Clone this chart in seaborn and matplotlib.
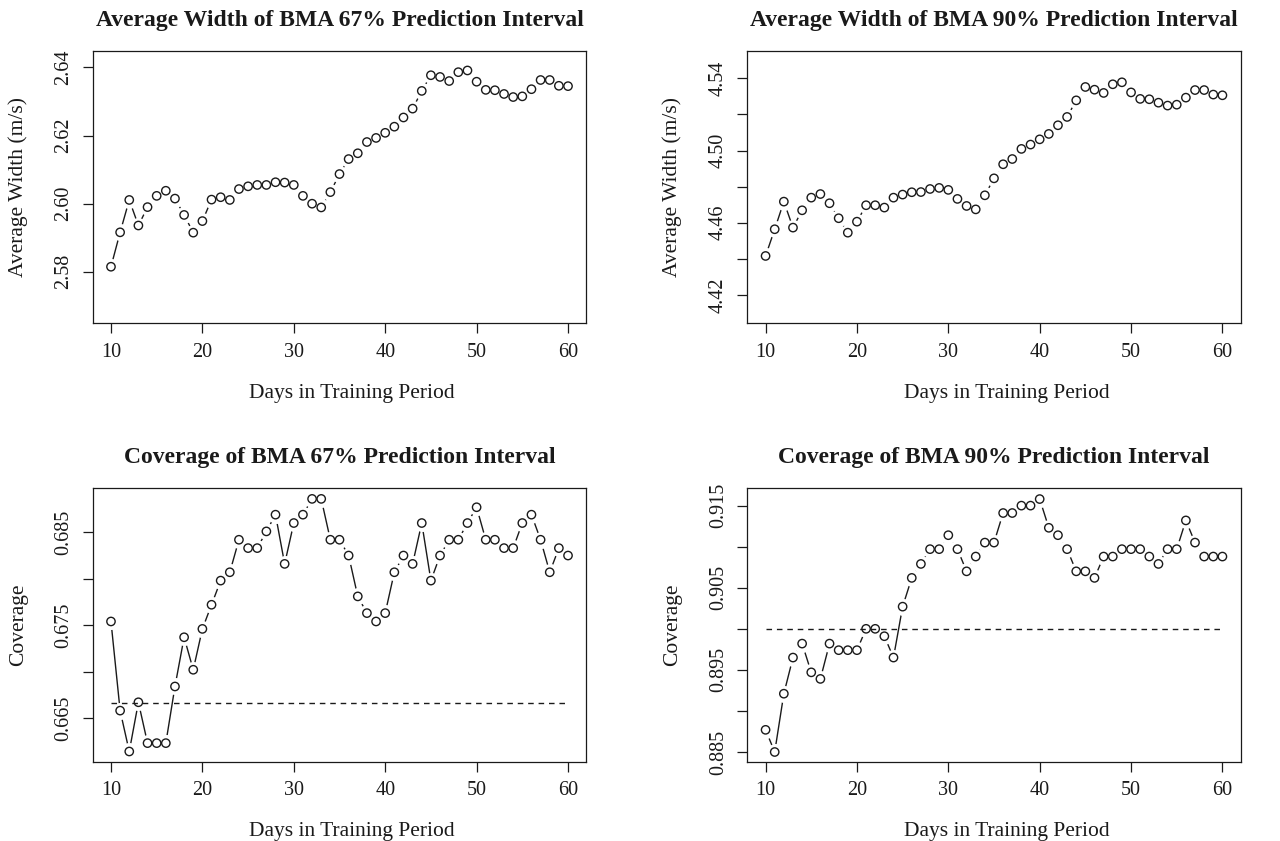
import matplotlib
matplotlib.use("Agg")
import matplotlib.pyplot as plt
import seaborn as sns
import numpy as np
import pandas as pd

days = list(range(10, 61))

width67 = [2.5815, 2.5916, 2.6011, 2.5936, 2.5990, 2.6023, 2.6038, 2.6015, 2.5967, 2.5915,
           2.5949, 2.6012, 2.6019, 2.6011, 2.6043, 2.6051, 2.6055, 2.6055, 2.6063, 2.6062,
           2.6055, 2.6023, 2.6000, 2.5989, 2.6034, 2.6087, 2.6131, 2.6148, 2.6181, 2.6193,
           2.6208, 2.6226, 2.6253, 2.6279, 2.6331, 2.6377, 2.6372, 2.6360, 2.6386, 2.6391,
           2.6358, 2.6334, 2.6333, 2.6322, 2.6313, 2.6315, 2.6336, 2.6363, 2.6363, 2.6346,
           2.6345]

width90 = [4.4416, 4.4564, 4.4717, 4.4573, 4.4669, 4.4739, 4.4759, 4.4708, 4.4625, 4.4545,
           4.4606, 4.4697, 4.4697, 4.4684, 4.4739, 4.4756, 4.4769, 4.4770, 4.4787, 4.4793,
           4.4782, 4.4732, 4.4693, 4.4674, 4.4752, 4.4846, 4.4924, 4.4953, 4.5009, 4.5033,
           4.5062, 4.5092, 4.5140, 4.5186, 4.5278, 4.5352, 4.5337, 4.5319, 4.5367, 4.5378,
           4.5322, 4.5286, 4.5284, 4.5265, 4.5249, 4.5254, 4.5293, 4.5335, 4.5335, 4.5310,
           4.5306]

cover67 = [0.6754, 0.6658, 0.6614, 0.6667, 0.6623, 0.6623, 0.6623, 0.6684, 0.6737, 0.6702,
           0.6746, 0.6772, 0.6798, 0.6807, 0.6842, 0.6833, 0.6833, 0.6851, 0.6869, 0.6816,
           0.6860, 0.6869, 0.6886, 0.6886, 0.6842, 0.6842, 0.6825, 0.6781, 0.6763, 0.6754,
           0.6763, 0.6807, 0.6825, 0.6816, 0.6860, 0.6798, 0.6825, 0.6842, 0.6842, 0.6860,
           0.6877, 0.6842, 0.6842, 0.6833, 0.6833, 0.6860, 0.6869, 0.6842, 0.6807, 0.6833,
           0.6825]

cover90 = [0.8877, 0.8850, 0.8921, 0.8965, 0.8982, 0.8947, 0.8939, 0.8982, 0.8974, 0.8974,
           0.8974, 0.9000, 0.9000, 0.8991, 0.8965, 0.9027, 0.9062, 0.9079, 0.9097, 0.9097,
           0.9114, 0.9097, 0.9070, 0.9088, 0.9105, 0.9105, 0.9141, 0.9141, 0.9150, 0.9150,
           0.9158, 0.9123, 0.9114, 0.9097, 0.9070, 0.9070, 0.9062, 0.9088, 0.9088, 0.9097,
           0.9097, 0.9097, 0.9088, 0.9079, 0.9097, 0.9097, 0.9132, 0.9105, 0.9088, 0.9088,
           0.9088]

nominal67 = 2 / 3
nominal90 = 0.90

sns.set_style("ticks")
plt.rcParams['font.family'] = ['Liberation Serif', 'DejaVu Serif']

ink = "#1a1a1a"

fig = plt.figure(figsize=(12.8, 8.41), dpi=100)
W, H = 1280, 841

def make_axes(left, top, right, bottom):
    return fig.add_axes([left / W, 1 - bottom / H, (right - left) / W, (bottom - top) / H])

panels = [
    dict(ax=make_axes(92.7, 50.7, 586.3, 323.3), y=width67,
         title="Average Width of BMA 67% Prediction Interval", ylabel="Average Width (m/s)",
         ylim=(2.5649, 2.6449), ticks=[2.58, 2.60, 2.62, 2.64],
         labels=["2.58", "2.60", "2.62", "2.64"], ref=None),
    dict(ax=make_axes(747.3, 50.7, 1240.7, 323.3), y=width90,
         title="Average Width of BMA 90% Prediction Interval", ylabel="Average Width (m/s)",
         ylim=(4.4043, 4.5553), ticks=[4.42, 4.44, 4.46, 4.48, 4.50, 4.52, 4.54],
         labels=["4.42", "", "4.46", "", "4.50", "", "4.54"], ref=None),
    dict(ax=make_axes(92.7, 488.3, 586.3, 761.7), y=cover67,
         title="Coverage of BMA 67% Prediction Interval", ylabel="Coverage",
         ylim=(0.6603, 0.68974), ticks=[0.665, 0.670, 0.675, 0.680, 0.685],
         labels=["0.665", "", "0.675", "", "0.685"], ref=nominal67),
    dict(ax=make_axes(747.3, 488.3, 1240.7, 761.7), y=cover90,
         title="Coverage of BMA 90% Prediction Interval", ylabel="Coverage",
         ylim=(0.88382, 0.91711), ticks=[0.885, 0.890, 0.895, 0.900, 0.905, 0.910, 0.915],
         labels=["0.885", "", "0.895", "", "0.905", "", "0.915"], ref=nominal90),
]

for p in panels:
    ax = p["ax"]
    df = pd.DataFrame({"day": days, "value": p["y"]})
    # R type="b": line with gaps around each point
    sns.lineplot(data=df, x="day", y="value", ax=ax, color=ink, lw=1.0, zorder=1)
    sns.scatterplot(data=df, x="day", y="value", ax=ax, s=150, color="white",
                    edgecolor="white", linewidth=0, zorder=2)
    sns.scatterplot(data=df, x="day", y="value", ax=ax, s=36, facecolor="none",
                    edgecolor=ink, linewidth=1.0, zorder=3)
    if p["ref"] is not None:
        ax.plot([10, 60], [p["ref"], p["ref"]], color=ink, lw=1.0,
                linestyle=(0, (4, 3.5)), zorder=4)

    ax.set_xlim(8, 62)
    ax.set_ylim(*p["ylim"])
    ax.set_xticks([10, 20, 30, 40, 50, 60])
    ax.set_yticks(p["ticks"])
    ax.set_yticklabels(p["labels"], rotation=90, va="center")
    ax.tick_params(direction="out", length=7, width=0.9, pad=7, labelsize=14.5,
                   colors=ink)
    for s in ax.spines.values():
        s.set_visible(True)
        s.set_linewidth(0.9)
        s.set_color(ink)
    ax.set_title(p["title"], fontsize=17, fontweight="bold", color=ink, pad=18)
    ax.set_xlabel("Days in Training Period", fontsize=15.5, color=ink, labelpad=16)
    ax.xaxis.label.set_x(0.5 + 12.5 / 493.6)
    ax.set_ylabel(p["ylabel"], fontsize=15.5, color=ink, labelpad=19)

fig.savefig("out.png", dpi=100)
